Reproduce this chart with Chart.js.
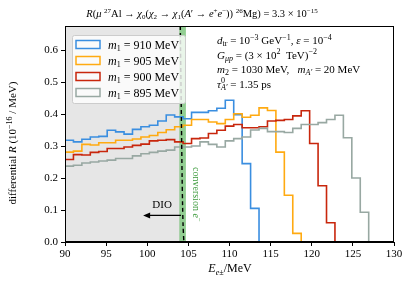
<!DOCTYPE html>
<html>
<head>
<meta charset="utf-8">
<script src="https://cdn.jsdelivr.net/npm/chart.js"></script>
<style>
  html, body { margin: 0; padding: 0; background: #fff; }
  #wrap { width: 407px; height: 285px; }
</style>
</head>
<body>
<div id="wrap"><canvas id="rateChart" width="407" height="285"></canvas></div>
<script>
// histogram binning (39 bins between 90 and 130 MeV)
const BIN_LO = 90;
const BIN_HI = 130;
const N_BINS = 39;

const m1Labels = ['910', '905', '900', '895'];
const m1Colors = ['#3a8ee0', '#ffaa11', '#c8260c', '#98a8a2'];

const rate910 = [0.318, 0.313, 0.321, 0.328, 0.330, 0.349, 0.344, 0.337, 0.352, 0.360,
  0.365, 0.378, 0.397, 0.391, 0.385, 0.405, 0.405, 0.410, 0.418, 0.443,
  0.398, 0.245, 0.105, 0, 0, 0, 0, 0, 0, 0, 0, 0, 0, 0, 0, 0, 0, 0, 0];
const rate905 = [0.281, 0.284, 0.305, 0.303, 0.310, 0.310, 0.318, 0.318, 0.322, 0.328,
  0.333, 0.342, 0.351, 0.360, 0.365, 0.383, 0.383, 0.375, 0.370, 0.383,
  0.401, 0.390, 0.396, 0.419, 0.411, 0.281, 0.146, 0.027, 0, 0, 0, 0, 0, 0, 0, 0, 0, 0, 0];
const rate900 = [0.258, 0.273, 0.272, 0.280, 0.283, 0.292, 0.292, 0.297, 0.302, 0.306,
  0.316, 0.318, 0.320, 0.313, 0.308, 0.323, 0.325, 0.339, 0.349, 0.362,
  0.367, 0.357, 0.357, 0.360, 0.378, 0.380, 0.383, 0.394, 0.410, 0.308,
  0.176, 0.060, 0, 0, 0, 0, 0, 0, 0];
const rate895 = [0.237, 0.240, 0.247, 0.250, 0.253, 0.256, 0.261, 0.261, 0.269, 0.276,
  0.280, 0.284, 0.287, 0.297, 0.297, 0.300, 0.313, 0.305, 0.297, 0.316,
  0.323, 0.328, 0.350, 0.355, 0.345, 0.345, 0.342, 0.355, 0.367, 0.367,
  0.373, 0.383, 0.396, 0.326, 0.200, 0.093, 0, 0, 0];

// DIO background tail (dashed)
const dioE = [103.95, 104.05, 104.12, 104.18, 104.24, 104.3, 104.36, 104.45];
const dioR = [0.85, 0.6, 0.45, 0.32, 0.2, 0.11, 0.05, 0.0];

const dioRegion = [90, 104.0];
const convBand = [103.9, 104.7];
const dioArrow = { from: 104.1, to: 99.5, y: 0.083 };
const dioText = { x: 101.8, y: 0.106 };

const xTicks = [90, 95, 100, 105, 110, 115, 120, 125, 130];
const yTicks = [0.0, 0.1, 0.2, 0.3, 0.4, 0.5, 0.6];

const SERIF = '"Liberation Serif", "DejaVu Serif", serif';

const edges = [];
for (let i = 0; i <= N_BINS; i++) edges.push(BIN_LO + (BIN_HI - BIN_LO) * i / N_BINS);

const stepPoints = (vals) => {
  const pts = vals.map((v, i) => ({ x: edges[i], y: v }));
  pts.push({ x: edges[N_BINS], y: vals[vals.length - 1] });
  return pts;
};

// text with italics / super- / subscripts
// style flags: i = italic, ^ = superscript, _ = subscript, k = keep x (stack next)
function drawRich(ctx, parts, x, y, size, align) {
  const fontFor = (st) => {
    const small = st.includes('^') || st.includes('_');
    return (st.includes('i') ? 'italic ' : '') + (small ? Math.round(size * 0.7) : size) + 'px ' + SERIF;
  };
  let w = 0;
  parts.forEach(([t, st]) => {
    ctx.font = fontFor(st);
    if (!st.includes('k')) w += ctx.measureText(t).width;
  });
  let cx = align === 'center' ? x - w / 2 : x;
  parts.forEach(([t, st]) => {
    ctx.font = fontFor(st);
    let dy = 0;
    if (st.includes('^')) dy = -size * 0.38;
    if (st.includes('_')) dy = size * 0.22;
    ctx.fillText(t, cx, y + dy);
    if (!st.includes('k')) cx += ctx.measureText(t).width;
  });
}

const titleParts = [['R', 'i'], ['(', ''], ['μ', 'i'], [' ', ''], ['27', '^'], ['Al → ', ''],
  ['χ', 'i'], ['0', '_'], ['(', ''], ['χ', 'i'], ['2', '_'], [' → ', ''], ['χ', 'i'], ['1', '_'],
  ['(', ''], ['A', 'i'], ['′ → ', ''], ['e', 'i'], ['+', '^'], ['e', 'i'], ['−', '^'], [')) ', ''],
  ['26', '^'], ['Mg) = 3.3 × 10', ''], ['−15', '^']];

const infoLines = [
  [['d', 'i'], ['tr', '_'], [' = 10', ''], ['−3', '^'], [' GeV', ''], ['−1', '^'], [', ', ''], ['ε', 'i'], [' = 10', ''], ['−4', '^']],
  [['G', 'i'], ['μp', '_i'], [' = (3 × 10', ''], ['2', '^'], ['  TeV)', ''], ['−2', '^']],
  [['m', 'i'], ['2', '_'], [' = 1030 MeV,   ', ''], ['m', 'i'], ['A′', '_i'], [' = 20 MeV', '']],
  [['τ', 'i'], ['0', '^k'], ['A′', '_i'], [' = 1.35 ps', '']]
];

const decorations = {
  id: 'decorations',
  beforeDatasetsDraw(chart) {
    const { ctx, chartArea: a, scales: { x, y } } = chart;
    ctx.save();
    ctx.fillStyle = '#e6e6e6';
    const gx0 = x.getPixelForValue(dioRegion[0]);
    const gx1 = x.getPixelForValue(dioRegion[1]);
    ctx.fillRect(gx0, a.top, gx1 - gx0, a.bottom - a.top);
    ctx.fillStyle = 'rgba(110, 190, 110, 0.75)';
    const bx0 = x.getPixelForValue(convBand[0]);
    const bx1 = x.getPixelForValue(convBand[1]);
    ctx.fillRect(bx0, a.top, bx1 - bx0, a.bottom - a.top);
    ctx.restore();
  },
  afterDraw(chart) {
    const { ctx, chartArea: a, scales: { x, y } } = chart;
    ctx.save();
    ctx.strokeStyle = '#000';
    ctx.lineWidth = 1;
    ctx.strokeRect(a.left + 0.5, a.top + 0.5, a.right - a.left - 1, a.bottom - a.top - 1);

    ctx.fillStyle = '#000';
    ctx.textBaseline = 'alphabetic';
    drawRich(ctx, titleParts, 202, 17, 10.5, 'center');

    // axis labels
    drawRich(ctx, [['E', 'i'], ['e±', '_i'], ['/MeV', '']], 230, 272, 12, 'center');
    ctx.save();
    ctx.translate(16, 143);
    ctx.rotate(-Math.PI / 2);
    drawRich(ctx, [['differential ', ''], ['R', 'i'], [' (10', ''], ['−16', '^'], [' / MeV)', '']], 0, 0, 11, 'center');
    ctx.restore();

    // parameter block
    infoLines.forEach((line, i) => drawRich(ctx, line, 217, 44 + i * 14.5, 11, 'left'));

    // DIO arrow + label
    const ay = y.getPixelForValue(dioArrow.y);
    const ax0 = x.getPixelForValue(dioArrow.from);
    const ax1 = x.getPixelForValue(dioArrow.to);
    ctx.strokeStyle = '#000';
    ctx.lineWidth = 1.2;
    ctx.beginPath();
    ctx.moveTo(ax0, ay);
    ctx.lineTo(ax1 + 4, ay);
    ctx.stroke();
    ctx.beginPath();
    ctx.moveTo(ax1, ay);
    ctx.lineTo(ax1 + 7, ay - 3);
    ctx.lineTo(ax1 + 7, ay + 3);
    ctx.closePath();
    ctx.fill();
    ctx.font = '11px ' + SERIF;
    ctx.textAlign = 'center';
    ctx.fillText('DIO', x.getPixelForValue(dioText.x), y.getPixelForValue(dioText.y));
    ctx.textAlign = 'left';

    // conversion label
    ctx.save();
    ctx.fillStyle = '#3c9a3c';
    ctx.translate(x.getPixelForValue(convBand[1]) + 7, 167);
    ctx.rotate(Math.PI / 2);
    drawRich(ctx, [['conversion ', ''], ['e', 'i'], ['−', '^']], 0, 0, 10, 'left');
    ctx.restore();

    // legend
    const lx = 72, ly = 35, lw = 113, lh = 68;
    ctx.fillStyle = 'rgba(255,255,255,0.8)';
    ctx.strokeStyle = '#cccccc';
    ctx.lineWidth = 1;
    ctx.beginPath();
    ctx.roundRect(lx + 0.5, ly + 0.5, lw, lh, 2);
    ctx.fill();
    ctx.stroke();
    m1Labels.forEach((lab, i) => {
      const ry = 44.5 + i * 16;
      ctx.strokeStyle = m1Colors[i];
      ctx.lineWidth = 1.5;
      ctx.strokeRect(76, ry - 4, 24, 8);
      ctx.fillStyle = '#000';
      drawRich(ctx, [['m', 'i'], ['1', '_'], [' = ' + lab + ' MeV', '']], 108, ry + 4, 12, 'left');
    });
    ctx.restore();
  }
};

const ctx = document.getElementById('rateChart').getContext('2d');
new Chart(ctx, {
  type: 'line',
  data: {
    datasets: [
      ...[rate910, rate905, rate900, rate895].map((vals, i) => ({
        label: 'm1 = ' + m1Labels[i] + ' MeV',
        data: stepPoints(vals),
        borderColor: m1Colors[i],
        borderWidth: 1.6,
        stepped: 'before',
        pointRadius: 0,
        fill: false,
        order: 4 - i
      })),
      {
        label: 'DIO',
        data: dioE.map((e, i) => ({ x: e, y: dioR[i] })),
        borderColor: '#000',
        borderWidth: 1.4,
        borderDash: [4, 3],
        pointRadius: 0,
        fill: false,
        tension: 0.3,
        order: 0
      }
    ]
  },
  options: {
    responsive: false,
    animation: false,
    layout: { padding: { left: 0, top: 26, right: 13, bottom: 0 } },
    plugins: { legend: { display: false }, tooltip: { enabled: false }, title: { display: false } },
    scales: {
      x: {
        type: 'linear',
        min: 90,
        max: 130,
        afterFit: (s) => { s.height = 43; },
        afterBuildTicks: (s) => { s.ticks = xTicks.map((v) => ({ value: v })); },
        grid: { drawOnChartArea: false, drawTicks: true, tickLength: 4, color: '#000' },
        border: { display: true, color: '#000' },
        ticks: { color: '#000', font: { family: SERIF, size: 11 }, padding: 2, maxRotation: 0 }
      },
      y: {
        min: 0,
        max: 0.675,
        afterFit: (s) => { s.width = 65; },
        afterBuildTicks: (s) => { s.ticks = yTicks.map((v) => ({ value: v })); },
        grid: { drawOnChartArea: false, drawTicks: true, tickLength: 4, color: '#000' },
        border: { display: true, color: '#000' },
        ticks: { color: '#000', font: { family: SERIF, size: 11 }, padding: 3, callback: (v) => v.toFixed(1) }
      }
    }
  },
  plugins: [decorations]
});
</script>
</body>
</html>
